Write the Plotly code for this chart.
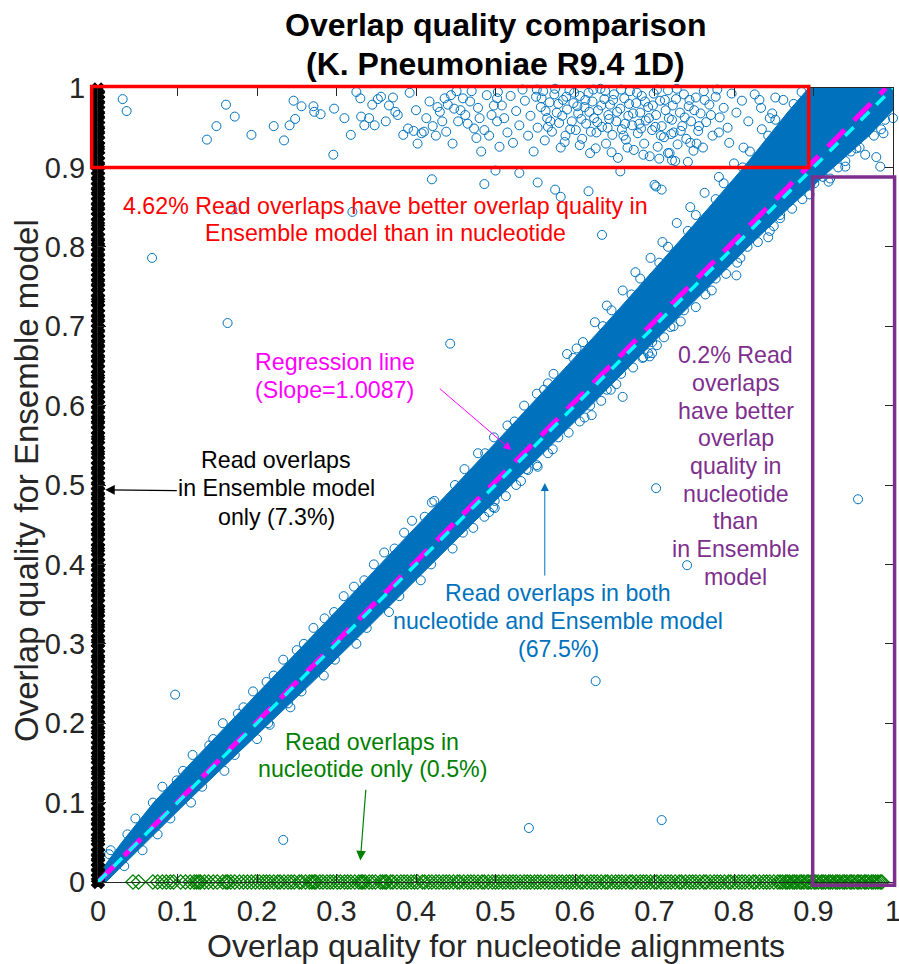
import plotly.graph_objects as go

BLUE = "#0072BD"
GREEN = "#008000"
RED = "#FF0000"
PURPLE = "#7E2F8E"
MAGENTA = "#FF00FF"
CYAN = "#00FFFF"
AXIS = "#262626"
FONT = "Liberation Sans, Arial, sans-serif"

# ---------------- data ----------------
tick_vals = [0, 0.1, 0.2, 0.3, 0.4, 0.5, 0.6, 0.7, 0.8, 0.9, 1.0]
tick_text = ["0", "0.1", "0.2", "0.3", "0.4", "0.5", "0.6", "0.7", "0.8", "0.9", "1"]

# overlaps found only with the Ensemble model (nucleotide quality = 0)
ens_only_y = [
    0.000, 0.005, 0.012, 0.018, 0.025, 0.031, 0.037, 0.044, 0.051, 0.056, 0.063, 0.070,
    0.076, 0.082, 0.089, 0.095, 0.103, 0.108, 0.115, 0.121, 0.127, 0.135, 0.140, 0.147,
    0.154, 0.159, 0.166, 0.172, 0.179, 0.186, 0.191, 0.198, 0.204, 0.211, 0.217, 0.223,
    0.230, 0.236, 0.243, 0.249, 0.255, 0.262, 0.268, 0.275, 0.281, 0.287, 0.294, 0.301,
    0.306, 0.313, 0.320, 0.325, 0.332, 0.339, 0.344, 0.351, 0.358, 0.364, 0.370, 0.377,
    0.383, 0.390, 0.396, 0.402, 0.409, 0.416, 0.421, 0.428, 0.435, 0.441, 0.447, 0.454,
    0.460, 0.467, 0.473, 0.480, 0.486, 0.492, 0.499, 0.505, 0.512, 0.518, 0.524, 0.531,
    0.538, 0.543, 0.550, 0.557, 0.562, 0.569, 0.576, 0.582, 0.588, 0.595, 0.601, 0.608,
    0.614, 0.620, 0.627, 0.634, 0.639, 0.646, 0.653, 0.659, 0.665, 0.672, 0.678, 0.684,
    0.691, 0.697, 0.704, 0.710, 0.716, 0.723, 0.730, 0.735, 0.742, 0.749, 0.755, 0.761,
    0.768, 0.774, 0.780, 0.787, 0.793, 0.800, 0.806, 0.812, 0.819, 0.826, 0.831, 0.838,
    0.845, 0.851, 0.857, 0.864, 0.870, 0.876, 0.883, 0.889, 0.896, 0.902, 0.908, 0.915,
    0.922, 0.927, 0.934, 0.941, 0.947, 0.953, 0.960, 0.966, 0.972, 0.979, 0.985, 0.992,
    0.998,
]

# overlaps found only with nucleotide alignments (Ensemble quality = 0)
nuc_only_x = [
    0.044, 0.051, 0.069, 0.075, 0.081, 0.086, 0.091, 0.095, 0.104, 0.110, 0.116, 0.121,
    0.124, 0.127, 0.129, 0.134, 0.139, 0.145, 0.150, 0.157, 0.161, 0.163, 0.167, 0.172,
    0.178, 0.183, 0.188, 0.193, 0.198, 0.203, 0.208, 0.212, 0.216, 0.221, 0.226, 0.229,
    0.234, 0.239, 0.243, 0.247, 0.253, 0.256, 0.261, 0.266, 0.269, 0.272, 0.274, 0.279,
    0.283, 0.288, 0.292, 0.296, 0.301, 0.305, 0.310, 0.314, 0.318, 0.323, 0.328, 0.331,
    0.333, 0.336, 0.341, 0.345, 0.349, 0.355, 0.358, 0.361, 0.363, 0.368, 0.371, 0.376,
    0.381, 0.385, 0.389, 0.394, 0.398, 0.402, 0.408, 0.411, 0.416, 0.420, 0.425, 0.429,
    0.434, 0.438, 0.442, 0.447, 0.452, 0.455, 0.460, 0.465, 0.469, 0.473, 0.478, 0.483,
    0.486, 0.491, 0.496, 0.500, 0.504, 0.509, 0.513, 0.518, 0.522, 0.526, 0.531, 0.536,
    0.540, 0.544, 0.549, 0.553, 0.557, 0.562, 0.567, 0.571, 0.575, 0.580, 0.584, 0.589,
    0.593, 0.597, 0.602, 0.607, 0.610, 0.615, 0.620, 0.624, 0.628, 0.633, 0.638, 0.641,
    0.646, 0.651, 0.655, 0.659, 0.664, 0.669, 0.672, 0.677, 0.682, 0.686, 0.690, 0.695,
    0.700, 0.703, 0.708, 0.713, 0.717, 0.721, 0.726, 0.731, 0.734, 0.739, 0.744, 0.748,
    0.752, 0.757, 0.762, 0.765, 0.770, 0.775, 0.779, 0.783, 0.788, 0.793, 0.796, 0.801,
    0.806, 0.810, 0.814, 0.819, 0.824, 0.827, 0.832, 0.837, 0.841, 0.845, 0.850, 0.855,
    0.858, 0.861, 0.865, 0.867, 0.870, 0.874, 0.876, 0.879, 0.883, 0.885, 0.888, 0.892,
    0.894, 0.897, 0.901, 0.903, 0.906, 0.910, 0.912, 0.915, 0.919, 0.921, 0.924, 0.928,
    0.930, 0.933, 0.937, 0.939, 0.942, 0.946, 0.948, 0.951, 0.955, 0.957, 0.960, 0.964,
    0.966, 0.969, 0.973, 0.975, 0.978, 0.981, 0.984, 0.986,
]

# outline of the dense band of overlaps found by both methods
band_upper_x = [0.000, 0.008, 0.030, 0.070, 0.117, 0.165, 0.212, 0.260, 0.308, 0.355, 0.403,
                0.450, 0.497, 0.544, 0.590, 0.636, 0.681, 0.725, 0.769, 0.812, 0.844, 0.868,
                0.894, 1.000]
band_upper_y = [0.000, 0.020, 0.050, 0.100, 0.150, 0.200, 0.250, 0.300, 0.350, 0.400, 0.450,
                0.500, 0.550, 0.600, 0.650, 0.700, 0.750, 0.800, 0.850, 0.900, 0.940, 0.970,
                1.000, 1.000]
band_lower_x = [1.000, 0.970, 0.925, 0.870, 0.818, 0.768, 0.718, 0.669, 0.620, 0.570, 0.520,
                0.470, 0.420, 0.370, 0.319, 0.268, 0.215, 0.163, 0.111, 0.060, 0.010]
band_lower_y = [0.972, 0.940, 0.900, 0.850, 0.800, 0.750, 0.700, 0.650, 0.600, 0.550, 0.500,
                0.450, 0.400, 0.350, 0.300, 0.250, 0.200, 0.150, 0.100, 0.050, 0.000]

# individual overlaps on the rim of the band
band_rim = [
    (0.014, 0.035), (0.037, 0.060), (0.047, 0.080), (0.069, 0.100), (0.081, 0.120), (0.107, 0.140),
    (0.119, 0.160), (0.145, 0.180), (0.157, 0.200), (0.183, 0.220), (0.195, 0.240), (0.221, 0.260),
    (0.233, 0.280), (0.259, 0.300), (0.271, 0.320), (0.297, 0.340), (0.309, 0.360), (0.335, 0.380),
    (0.347, 0.400), (0.373, 0.420), (0.385, 0.440), (0.411, 0.460), (0.423, 0.480), (0.449, 0.500),
    (0.461, 0.520), (0.487, 0.540), (0.498, 0.560), (0.524, 0.580), (0.536, 0.600), (0.561, 0.620),
    (0.573, 0.640), (0.598, 0.660), (0.610, 0.680), (0.635, 0.700), (0.646, 0.720), (0.671, 0.740),
    (0.682, 0.760), (0.706, 0.780), (0.717, 0.800), (0.742, 0.820), (0.752, 0.840), (0.777, 0.860),
    (0.787, 0.880), (0.811, 0.900), (0.820, 0.920), (0.843, 0.940), (0.852, 0.960), (0.875, 0.980),
    (0.885, 0.995),
    (0.033, 0.020), (0.056, 0.040), (0.075, 0.060), (0.091, 0.080), (0.117, 0.100), (0.131, 0.120),
    (0.159, 0.140), (0.172, 0.160), (0.200, 0.180), (0.214, 0.200), (0.242, 0.220), (0.256, 0.240),
    (0.284, 0.260), (0.298, 0.280), (0.325, 0.300), (0.338, 0.320), (0.366, 0.340), (0.379, 0.360),
    (0.406, 0.380), (0.419, 0.400), (0.446, 0.420), (0.459, 0.440), (0.486, 0.460), (0.499, 0.480),
    (0.526, 0.500), (0.539, 0.520), (0.566, 0.540), (0.579, 0.560), (0.606, 0.580), (0.619, 0.600),
    (0.645, 0.620), (0.658, 0.640), (0.685, 0.660), (0.697, 0.680), (0.724, 0.700), (0.737, 0.720),
    (0.764, 0.740), (0.777, 0.760), (0.804, 0.780), (0.817, 0.800), (0.845, 0.820), (0.858, 0.840),
    (0.886, 0.860), (0.901, 0.880), (0.931, 0.900), (0.947, 0.920), (0.976, 0.940), (0.990, 0.960),
    # looser overlaps just outside the rim
    (0.140, 0.172), (0.176, 0.212), (0.212, 0.252), (0.250, 0.292), (0.285, 0.332), (0.322, 0.372),
    (0.360, 0.415), (0.395, 0.455), (0.420, 0.478), (0.478, 0.540), (0.515, 0.575), (0.552, 0.615),
    (0.566, 0.628), (0.590, 0.665), (0.602, 0.672), (0.625, 0.705), (0.640, 0.726), (0.660, 0.745),
    (0.676, 0.768), (0.695, 0.786), (0.710, 0.806), (0.728, 0.830), (0.745, 0.850), (0.763, 0.868),
    (0.781, 0.888), (0.800, 0.905), (0.812, 0.925), (0.835, 0.948), (0.848, 0.968), (0.862, 0.985),
    (0.985, 0.948), (0.958, 0.925), (0.940, 0.908), (0.912, 0.888), (0.895, 0.866), (0.873, 0.848),
    (0.850, 0.826), (0.830, 0.806), (0.808, 0.786), (0.790, 0.766), (0.772, 0.745), (0.752, 0.724),
    (0.733, 0.706), (0.712, 0.686), (0.692, 0.666), (0.673, 0.648), (0.652, 0.627), (0.633, 0.606),
    (0.612, 0.585), (0.592, 0.566), (0.572, 0.545), (0.552, 0.525), (0.532, 0.505), (0.513, 0.486),
    (0.492, 0.466), (0.472, 0.446),
]

# overlaps scoring much higher with the Ensemble model (top strip)
top_pts = [
    (0.031, 0.986), (0.036, 0.971), (0.137, 0.935), (0.149, 0.952), (0.161, 0.979), (0.172, 0.964),
    (0.193, 0.941), (0.221, 0.952), (0.234, 0.934), (0.241, 0.953), (0.246, 0.984), (0.248, 0.961),
    (0.256, 0.977), (0.271, 0.977), (0.272, 0.970), (0.280, 0.967), (0.296, 0.916), (0.297, 0.974),
    (0.310, 0.962), (0.318, 0.941), (0.325, 0.995), (0.330, 0.987), (0.331, 0.964), (0.335, 0.953),
    (0.341, 0.962), (0.345, 0.979), (0.348, 0.953), (0.352, 0.986), (0.356, 0.989), (0.362, 0.958),
    (0.366, 0.978), (0.371, 0.988), (0.374, 0.970), (0.377, 0.966), (0.384, 0.941), (0.390, 0.949),
    (0.392, 0.994), (0.397, 0.946), (0.400, 0.972), (0.402, 0.930), (0.407, 0.943), (0.410, 0.945),
    (0.413, 0.962), (0.417, 0.983), (0.421, 0.952), (0.425, 0.940), (0.427, 0.976), (0.430, 0.970),
    (0.433, 0.958), (0.436, 0.987), (0.438, 0.945), (0.440, 0.979), (0.444, 0.991), (0.446, 0.930),
    (0.448, 0.974), (0.451, 0.996), (0.453, 0.958), (0.456, 0.972), (0.459, 0.987), (0.462, 0.966),
    (0.465, 0.955), (0.468, 0.983), (0.470, 0.996), (0.473, 0.949), (0.476, 0.937), (0.478, 0.975),
    (0.480, 0.962), (0.482, 0.920), (0.486, 0.947), (0.489, 0.991), (0.492, 0.940), (0.495, 0.966),
    (0.498, 0.978), (0.502, 0.987), (0.502, 0.958), (0.505, 0.926),
    (0.503, 0.995), (0.508, 0.978), (0.511, 0.962), (0.515, 0.944), (0.519, 0.990), (0.522, 0.931),
    (0.526, 0.971), (0.530, 0.953), (0.534, 0.998), (0.537, 0.984), (0.541, 0.940), (0.544, 0.965),
    (0.548, 0.920), (0.551, 0.989), (0.553, 0.950), (0.557, 0.976), (0.560, 0.996), (0.562, 0.934),
    (0.565, 0.962), (0.568, 0.982), (0.571, 0.945), (0.574, 0.992), (0.577, 0.969), (0.580, 0.956),
    (0.582, 0.925), (0.585, 0.985), (0.588, 0.940), (0.590, 0.973), (0.593, 0.997), (0.596, 0.958),
    (0.598, 0.981), (0.601, 0.947), (0.604, 0.968), (0.606, 0.990), (0.609, 0.936), (0.612, 0.976),
    (0.614, 0.955), (0.617, 0.994), (0.619, 0.918), (0.622, 0.983), (0.624, 0.962), (0.627, 0.944),
    (0.629, 0.972), (0.632, 0.999), (0.634, 0.951), (0.637, 0.986), (0.639, 0.930), (0.642, 0.966),
    (0.644, 0.979), (0.647, 0.941), (0.649, 0.992), (0.652, 0.958), (0.654, 0.912), (0.657, 0.974),
    (0.659, 0.948), (0.662, 0.987), (0.664, 0.935), (0.667, 0.965), (0.669, 0.996), (0.672, 0.953),
    (0.674, 0.922), (0.677, 0.981), (0.679, 0.943), (0.682, 0.969), (0.684, 0.990), (0.687, 0.930),
    (0.689, 0.959), (0.692, 0.976), (0.694, 0.914), (0.697, 0.947), (0.699, 0.993), (0.702, 0.966),
    (0.704, 0.926), (0.707, 0.984), (0.709, 0.952), (0.712, 0.938), (0.714, 0.972), (0.717, 0.997),
    (0.719, 0.918), (0.722, 0.960), (0.724, 0.944), (0.727, 0.986), (0.729, 0.929), (0.732, 0.969),
    (0.735, 0.952), (0.737, 0.992), (0.740, 0.936), (0.743, 0.977), (0.746, 0.958), (0.749, 0.921),
    (0.752, 0.988), (0.755, 0.946), (0.758, 0.968), (0.762, 0.996), (0.765, 0.957), (0.769, 0.979),
    (0.773, 0.940), (0.777, 0.989), (0.782, 0.963), (0.787, 0.975), (0.792, 0.950), (0.797, 0.993),
    (0.803, 0.969), (0.810, 0.984), (0.818, 0.958), (0.826, 0.992), (0.834, 0.975), (0.845, 0.962),
    (0.852, 0.988),
    (0.552, 0.998), (0.558, 0.987), (0.563, 0.971), (0.569, 0.958), (0.575, 0.999), (0.579, 0.980),
    (0.584, 0.965), (0.589, 0.989), (0.594, 0.948), (0.599, 0.994), (0.603, 0.977), (0.608, 0.961),
    (0.613, 0.985), (0.618, 0.970), (0.623, 0.998), (0.628, 0.957), (0.633, 0.978), (0.638, 0.996),
    (0.643, 0.961), (0.648, 0.985), (0.653, 0.970), (0.658, 0.998), (0.663, 0.955), (0.668, 0.980),
    (0.673, 0.968), (0.678, 0.994), (0.683, 0.949), (0.688, 0.983), (0.693, 0.962), (0.698, 0.978),
    (0.703, 0.998), (0.708, 0.940), (0.713, 0.985), (0.718, 0.962), (0.723, 0.978), (0.728, 0.999),
    (0.733, 0.946), (0.738, 0.963), (0.744, 0.985), (0.750, 0.972), (0.756, 0.952), (0.763, 0.985),
    (0.771, 0.966), (0.779, 0.998),
    (0.566, 0.951), (0.587, 0.932), (0.606, 0.928), (0.626, 0.924), (0.646, 0.919), (0.666, 0.925),
    (0.686, 0.916), (0.706, 0.911), (0.726, 0.908), (0.745, 0.931), (0.761, 0.925), (0.781, 0.944),
    (0.620, 0.945), (0.641, 0.950), (0.661, 0.940), (0.681, 0.955), (0.701, 0.951), (0.721, 0.942),
]

# scattered overlaps away from the band
outlier_pts = [
    (0.068, 0.786), (0.169, 0.847), (0.320, 0.844), (0.163, 0.704), (0.443, 0.678), (0.420, 0.885),
    (0.486, 0.879), (0.553, 0.881), (0.575, 0.872), (0.582, 0.863), (0.617, 0.870), (0.634, 0.815),
    (0.657, 0.895), (0.700, 0.878), (0.709, 0.872), (0.702, 0.876), (0.753, 0.930), (0.794, 0.931),
    (0.832, 0.985), (0.742, 0.907), (0.722, 0.909), (0.717, 0.918), (0.500, 0.896), (0.530, 0.893),
    (0.940, 0.901), (0.954, 0.924), (0.965, 0.916), (0.979, 0.913), (0.984, 0.901), (0.988, 0.943),
    (1.000, 0.962), (0.921, 0.886), (0.919, 0.882), (0.896, 0.878), (0.858, 0.836), (0.843, 0.812),
    (0.803, 0.764), (0.720, 0.699), (0.703, 0.676), (0.694, 0.662), (0.697, 0.666), (0.686, 0.661),
    (0.660, 0.611), (0.640, 0.620), (0.621, 0.588), (0.553, 0.523), (0.541, 0.519), (0.497, 0.472),
    (0.499, 0.471), (0.702, 0.496), (0.741, 0.399), (0.956, 0.482), (0.626, 0.253), (0.097, 0.236),
    (0.099, 0.128), (0.216, 0.198), (0.239, 0.225), (0.233, 0.053), (0.542, 0.068), (0.709, 0.078),
    (0.016, 0.040), (0.069, 0.088), (0.074, 0.094),
]

reg_slope = 1.0087
reg_x = [0.0, 0.991]
diag_x = [0.0, 1.0]

# highlighted regions (x0, x1, y0, y1)
better_ensemble_box = [-0.008, 0.894, 0.900, 1.002]
better_nucleotide_box = [0.899, 1.002, -0.004, 0.888]

# ---------------- figure ----------------
fig = go.Figure()

# dense band (thousands of overlapping markers rendered as a solid region)
fig.add_trace(go.Scatter(
    x=band_upper_x + band_lower_x, y=band_upper_y + band_lower_y,
    mode="lines", fill="toself", fillcolor=BLUE,
    line=dict(color=BLUE, width=1), hoverinfo="skip", showlegend=False,
))

circle = dict(symbol="circle-open", size=9, color=BLUE, line=dict(width=1, color=BLUE))
for pts in (band_rim, top_pts, outlier_pts):
    fig.add_trace(go.Scatter(
        x=[p[0] for p in pts], y=[p[1] for p in pts], mode="markers",
        marker=circle, cliponaxis=False, showlegend=False,
    ))

fig.add_trace(go.Scatter(
    x=nuc_only_x, y=[0.0] * len(nuc_only_x), mode="markers",
    marker=dict(symbol="diamond-open", size=11, color=GREEN, line=dict(width=1.3, color=GREEN)),
    cliponaxis=False, showlegend=False,
))
fig.add_trace(go.Scatter(
    x=[0.0] * len(ens_only_y), y=ens_only_y, mode="markers",
    marker=dict(symbol="x", size=11, color="black", line=dict(width=1.5, color="black")),
    cliponaxis=False, showlegend=False,
))

# regression line and identity line
fig.add_trace(go.Scatter(
    x=reg_x, y=[reg_slope * v for v in reg_x], mode="lines",
    line=dict(color=MAGENTA, width=5, dash="24px,13px"), showlegend=False,
))
fig.add_trace(go.Scatter(
    x=diag_x, y=diag_x, mode="lines",
    line=dict(color=CYAN, width=3.5, dash="12px,10px"), showlegend=False,
))

# boxes use paper coordinates (identical to data coordinates here) so they are not clipped
for box, color in [(better_ensemble_box, RED), (better_nucleotide_box, PURPLE)]:
    fig.add_shape(type="rect", xref="paper", yref="paper", x0=box[0], x1=box[1],
                  y0=box[2], y1=box[3], line=dict(color=color, width=3.5))


def add_lines(lines, x, y, color, spacing, size=23.2):
    n = len(lines)
    for i, t in enumerate(lines):
        fig.add_annotation(
            x=x, y=y, xref="x", yref="y", text=t, showarrow=False,
            xanchor="center", yanchor="middle", yshift=((n - 1) / 2 - i) * spacing,
            font=dict(family=FONT, size=size, color=color),
        )


add_lines(["4.62% Read overlaps have better overlap quality in",
           "Ensemble model than in nucleotide"], 0.362, 0.834, RED, 27)
add_lines(["Regression line", "(Slope=1.0087)"], 0.298, 0.6375, MAGENTA, 28.5)
add_lines(["Read overlaps", "in Ensemble model", "only (7.3%)"], 0.2245, 0.4956, "black", 28.5)
add_lines(["Read overlaps in both", "nucleotide and Ensemble model", "(67.5%)"],
          0.579, 0.3287, BLUE, 28)
add_lines(["Read overlaps in", "nucleotide only (0.5%)"], 0.345, 0.1594, GREEN, 27.3)
add_lines(["0.2% Read", "overlaps", "have better", "overlap", "quality in", "nucleotide",
           "than", "in Ensemble", "model"], 0.802, 0.524, PURPLE, 27.7)

# pointer arrows
for head, tail, color, w in [
    ((0.009, 0.494), (0.101, 0.493), "black", 1.2),
    ((0.520, 0.544), (0.428, 0.623), MAGENTA, 1.0),
    ((0.562, 0.5025), (0.562, 0.384), BLUE, 1.0),
    ((0.330, 0.027), (0.337, 0.118), GREEN, 1.2),
]:
    fig.add_annotation(
        x=head[0], y=head[1], ax=tail[0], ay=tail[1], xref="x", yref="y", axref="x", ayref="y",
        text="", showarrow=True, arrowhead=2, arrowsize=1.6, arrowwidth=w, arrowcolor=color,
    )

# titles
fig.add_annotation(x=0.5, y=1, xref="paper", yref="paper", yshift=63, showarrow=False,
                   text="<b>Overlap quality comparison</b>", yanchor="middle",
                   font=dict(family=FONT, size=32, color="black"))
fig.add_annotation(x=0.5, y=1, xref="paper", yref="paper", yshift=24, showarrow=False,
                   text="<b>(K. Pneumoniae R9.4 1D)</b>", yanchor="middle",
                   font=dict(family=FONT, size=32, color="black"))
fig.add_annotation(x=0.5, y=0, xref="paper", yref="paper", yshift=-64, showarrow=False,
                   text="Overlap quality for nucleotide alignments", yanchor="middle",
                   font=dict(family=FONT, size=32, color=AXIS))
fig.add_annotation(x=0, y=0.505, xref="paper", yref="paper", xshift=-72, showarrow=False,
                   text="Overlap quality for Ensemble model", textangle=-90,
                   xanchor="center", yanchor="middle",
                   font=dict(family=FONT, size=33, color=AXIS))

axis_common = dict(
    range=[0, 1], tickvals=tick_vals, ticktext=tick_text, ticks="inside", ticklen=8,
    tickwidth=1, tickcolor=AXIS, showline=True, linecolor=AXIS, linewidth=1, mirror="ticks",
    showgrid=False, zeroline=False, tickfont=dict(family=FONT, size=29, color=AXIS),
    ticklabeloverflow="allow", automargin=False,
)
fig.update_layout(
    width=899, height=964, margin=dict(l=98, r=6, t=88, b=82, autoexpand=False),
    paper_bgcolor="white", plot_bgcolor="white", showlegend=False,
    xaxis=dict(**axis_common, ticklabelstandoff=3),
    yaxis=dict(**axis_common, ticklabelstandoff=6),
)

fig.write_html("out.html")
